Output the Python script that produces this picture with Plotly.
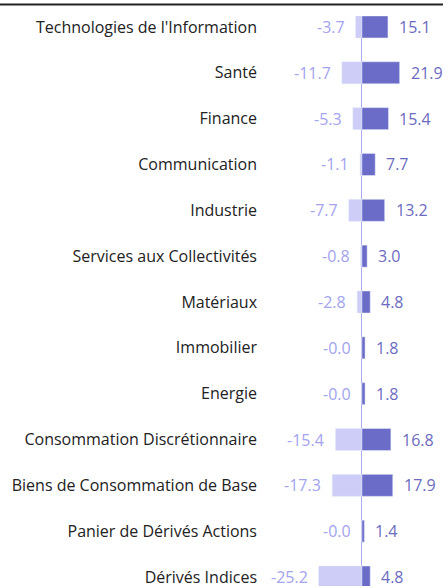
import plotly.graph_objects as go

categories = [
    "Technologies de l'Information", "Santé", "Finance", "Communication",
    "Industrie", "Services aux Collectivités", "Matériaux", "Immobilier",
    "Energie", "Consommation Discrétionnaire", "Biens de Consommation de Base",
    "Panier de Dérivés Actions", "Dérivés Indices",
]
negative = [-3.7, -11.7, -5.3, -1.1, -7.7, -0.8, -2.8, -0.0, -0.0, -15.4, -17.3, -0.0, -25.2]
positive = [15.1, 21.9, 15.4, 7.7, 13.2, 3.0, 4.8, 1.8, 1.8, 16.8, 17.9, 1.4, 4.8]

NEG_BAR = "#cdcdf8"
POS_BAR = "#6b6bc8"
NEG_TXT = "#a3a3ee"
POS_TXT = "#6b6bc0"
FONT = "Open Sans"

fig = go.Figure()
fig.add_trace(go.Bar(y=categories, x=negative, orientation="h", marker_color=NEG_BAR,
                     width=0.48, hoverinfo="skip", showlegend=False))
fig.add_trace(go.Bar(y=categories, x=positive, orientation="h", marker_color=POS_BAR,
                     width=0.48, hoverinfo="skip", showlegend=False))

for c, v in zip(categories, negative):
    fig.add_annotation(x=v, y=c, text=f"{v:.1f}", showarrow=False, xanchor="right",
                       xshift=-9, font=dict(family=FONT, size=16, color=NEG_TXT))
for c, v in zip(categories, positive):
    fig.add_annotation(x=v, y=c, text=f"{v:.1f}", showarrow=False, xanchor="left",
                       xshift=9, font=dict(family=FONT, size=16, color=POS_TXT))

fig.add_shape(type="line", xref="paper", yref="paper", x0=-2, x1=2,
              y0=1 + 11.5 / 572, y1=1 + 11.5 / 572, line=dict(color="#222222", width=2))

fig.update_layout(
    width=443, height=588,
    margin=dict(l=262, r=0, t=16, b=0),
    barmode="overlay",
    plot_bgcolor="white", paper_bgcolor="white",
    font=dict(family=FONT, size=16, color="#222222"),
    xaxis=dict(range=[-58.1, 47.1], showgrid=False, showticklabels=False, ticks="",
               zeroline=True, zerolinecolor="#aaaaee", zerolinewidth=1, fixedrange=True),
    yaxis=dict(range=[12.196, -0.239], showgrid=False, ticks="", zeroline=False,
               ticklabelstandoff=4, tickfont=dict(family=FONT, size=16, color="#222222")),
)

fig.write_html("out.html")
